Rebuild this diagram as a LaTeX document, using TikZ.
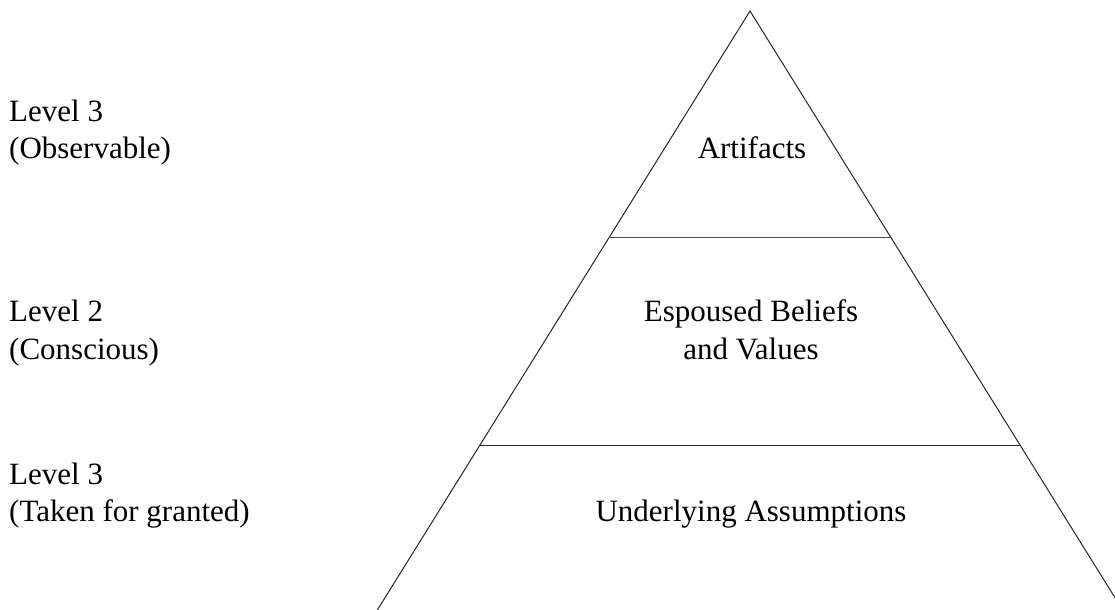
\documentclass[tikz,border=0pt]{standalone}
\usepackage{fontspec}
\setmainfont{Liberation Serif}
\begin{document}
\begin{tikzpicture}[x=1bp,y=-1bp,
  edge/.style={line width=1bp,draw=black!85},
  lbl/.style={anchor=base west,inner sep=0pt,font=\fontsize{31bp}{37bp}\selectfont},
  ctr/.style={anchor=base,inner sep=0pt,font=\fontsize{31bp}{37bp}\selectfont}]
  \useasboundingbox (0,0) rectangle (1115,610);
  \clip (0,0) rectangle (1115,610);
  % pyramid outline (the base runs below the frame)
  \coordinate (apex) at (750,11);
  \coordinate (bl) at (373,617);
  \coordinate (br) at (1127,617);
  \coordinate (l1) at (609.5,237.5);
  \coordinate (r1) at (890.5,237.5);
  \coordinate (l2) at (479.5,445.5);
  \coordinate (r2) at (1020.5,445.5);
  \draw[edge] (bl) -- (apex) -- (br);
  \draw[edge,draw=black!70] (l1) -- (r1);
  \draw[edge] (l2) -- (r2);
  % layer names
  \node[ctr] (art) at (752,159) {Artifacts};
  \node[ctr] (esp) at (751,322) {Espoused Beliefs};
  \node[ctr] (val) at (751,359) {and Values};
  \node[ctr] (ass) at (751,521) {Underlying Assumptions};
  % level captions
  \node[lbl] (lv3a) at (9,122) {Level 3};
  \node[lbl] (obs) at (9,159) {(Observable)};
  \node[lbl] (lv2) at (9,322) {Level 2};
  \node[lbl] (con) at (9,359) {(Conscious)};
  \node[lbl] (lv3b) at (9,484) {Level 3};
  \node[lbl] (tak) at (9,521) {(Taken for granted)};
\end{tikzpicture}
\end{document}
